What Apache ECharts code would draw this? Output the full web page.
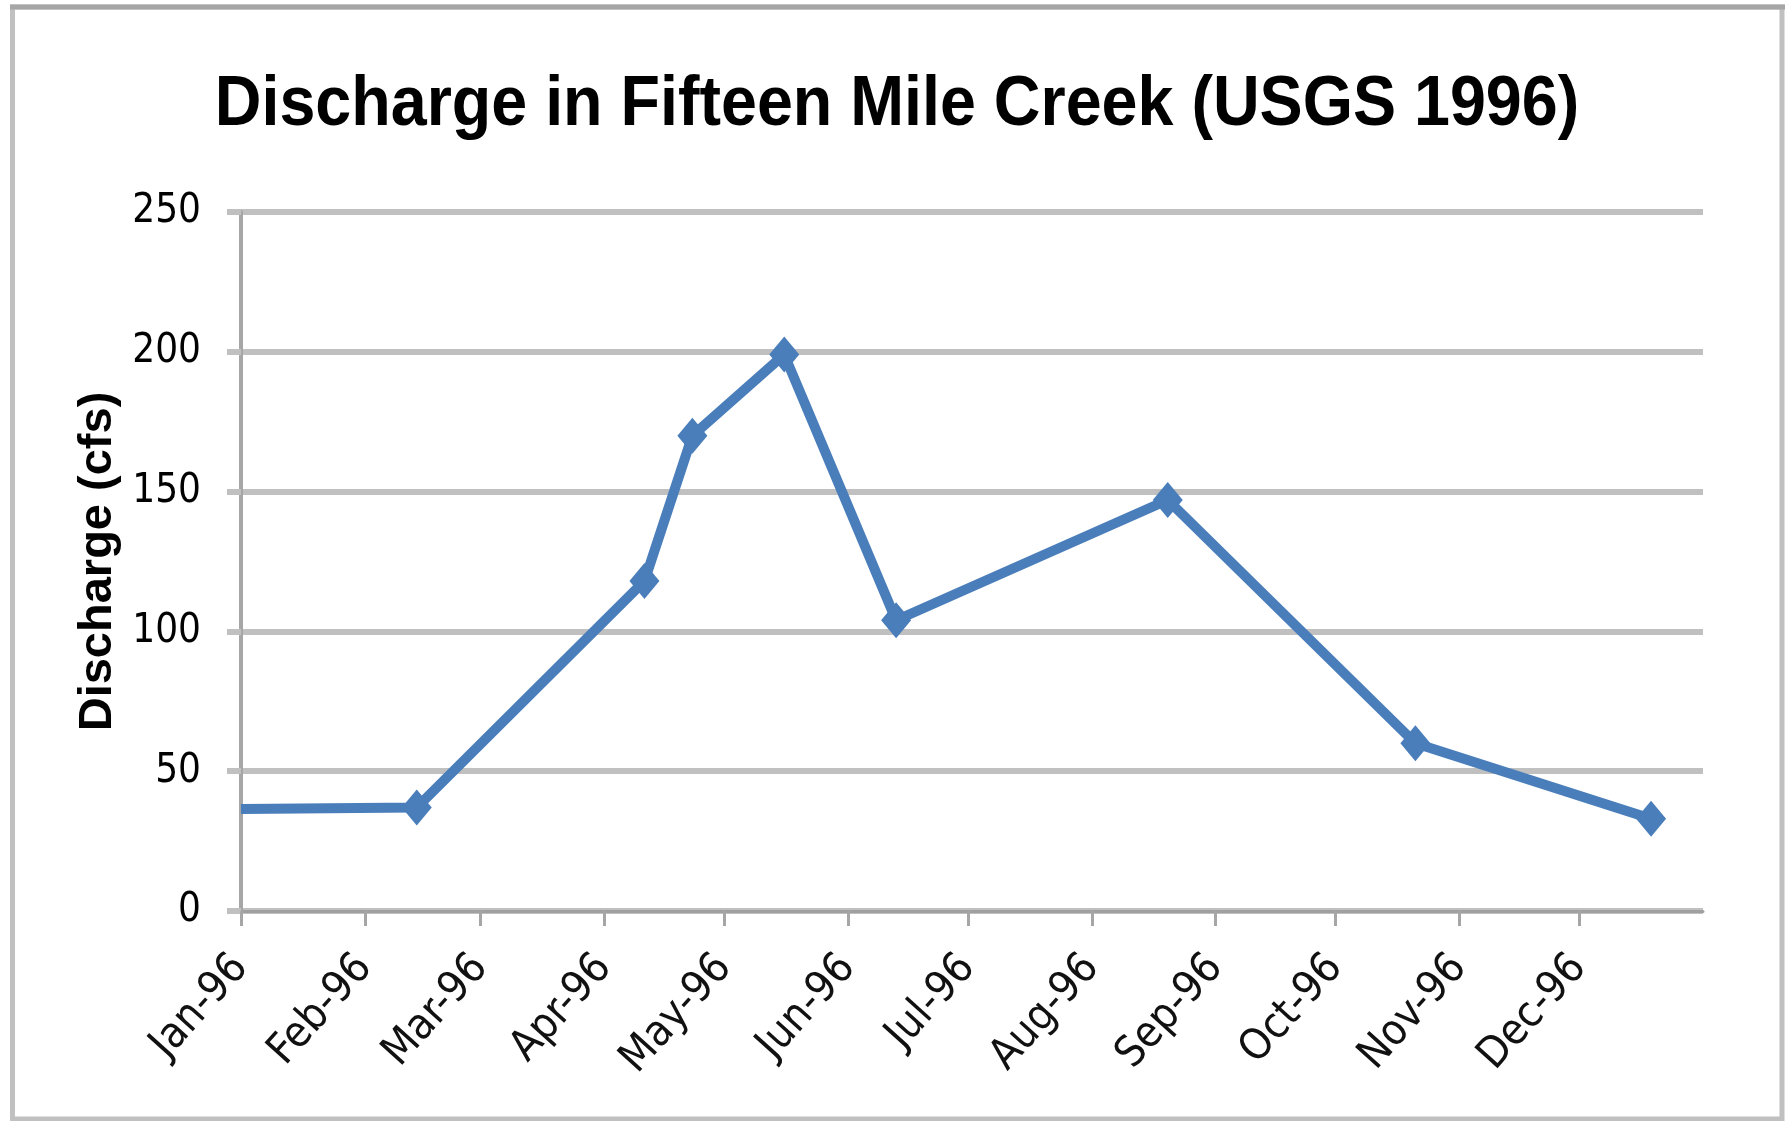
<!DOCTYPE html>
<html>
<head>
<meta charset="utf-8">
<style>
  html, body { margin: 0; padding: 0; background: #ffffff; }
  #chart { width: 1789px; height: 1121px; }
</style>
<script src="https://cdn.jsdelivr.net/npm/echarts@6/dist/echarts.min.js"></script>
</head>
<body>
<div id="chart"></div>
<script>
// ---- data ----
const sampleDates = ['1996-01-01', '1996-02-14', '1996-04-11', '1996-04-23', '1996-05-16',
                     '1996-06-13', '1996-08-20', '1996-10-21', '1996-12-19'];
const dischargeCfs = [36.5, 37, 118, 170, 199, 104, 147, 60, 33];
const monthTickLabels = ['Jan-96', 'Feb-96', 'Mar-96', 'Apr-96', 'May-96', 'Jun-96',
                         'Jul-96', 'Aug-96', 'Sep-96', 'Oct-96', 'Nov-96', 'Dec-96'];
const yTicks = [0, 50, 100, 150, 200, 250];
const titleText = 'Discharge in Fifteen Mile Creek (USGS 1996)';
const yAxisTitle = 'Discharge (cfs)';

const narrow = '"DejaVu Sans Condensed", "Liberation Sans Narrow", sans-serif';
const DAY = 86400000;

const seriesData = sampleDates.map((d, i) => {
  const item = { value: [d, dischargeCfs[i]] };
  if (i === 0) item.symbol = 'none';
  return item;
});

const chart = echarts.init(document.getElementById('chart'), null, { renderer: 'canvas' });
chart.setOption({
  backgroundColor: '#ffffff',
  animation: false,
  graphic: [
    { type: 'rect', silent: true, z: -1,
      shape: { x: 12.5, y: 7, width: 1769.5, height: 1112 },
      style: { fill: 'none', stroke: '#c0c0c0', lineWidth: 5 } },
    { type: 'line', silent: true, z: -1,
      shape: { x1: 10, y1: 7, x2: 1785, y2: 7 },
      style: { stroke: '#a6a6a6', lineWidth: 5 } },
    { type: 'text', silent: true, z: 10,
      x: 897, y: 105, scaleX: 0.91, scaleY: 1,
      style: {
        text: titleText, x: 0, y: 0, align: 'center', verticalAlign: 'middle',
        font: 'bold 71px "Liberation Sans", Arial, sans-serif', fill: '#000000'
      } }
  ],
  grid: { left: 241, right: 86, top: 212, bottom: 210, containLabel: false },
  xAxis: {
    type: 'time',
    min: '1996-01-01',
    max: '1997-01-01',
    splitNumber: 12,
    minInterval: 28 * DAY,
    maxInterval: 31 * DAY,
    axisLine: { show: true, lineStyle: { color: '#a0a0a0', width: 3 } },
    axisTick: { show: true, length: 15, lineStyle: { color: '#a6a6a6', width: 3 } },
    minorTick: { show: false },
    splitLine: { show: false },
    axisLabel: {
      interval: 0,
      rotate: 48,
      margin: 50,
      fontFamily: narrow,
      fontSize: 43,
      color: '#111111',
      showMaxLabel: false,
      formatter: function (v) {
        const d = new Date(v);
        if (d.getFullYear() !== 1996) return '';
        return monthTickLabels[d.getMonth()];
      }
    }
  },
  yAxis: {
    type: 'value',
    min: yTicks[0],
    max: yTicks[yTicks.length - 1],
    interval: 50,
    name: yAxisTitle,
    nameLocation: 'middle',
    nameGap: 116,
    nameTextStyle: { fontFamily: '"Liberation Sans", Arial, sans-serif', fontWeight: 'bold', fontSize: 47, color: '#000000' },
    axisLine: { show: true, lineStyle: { color: '#a6a6a6', width: 4 } },
    axisTick: { show: true, length: 14, lineStyle: { color: '#c0c0c0', width: 6 } },
    splitLine: { show: true, lineStyle: { color: '#c0c0c0', width: 6 } },
    axisLabel: { margin: 40, fontFamily: narrow, fontSize: 40, color: '#000000' }
  },
  series: [{
    type: 'line',
    data: seriesData,
    symbol: 'diamond',
    symbolSize: [30, 36],
    lineStyle: { color: '#4a7ebb', width: 10 },
    itemStyle: { color: '#4a7ebb' },
    clip: true,
    z: 3
  }]
});
</script>
</body>
</html>
